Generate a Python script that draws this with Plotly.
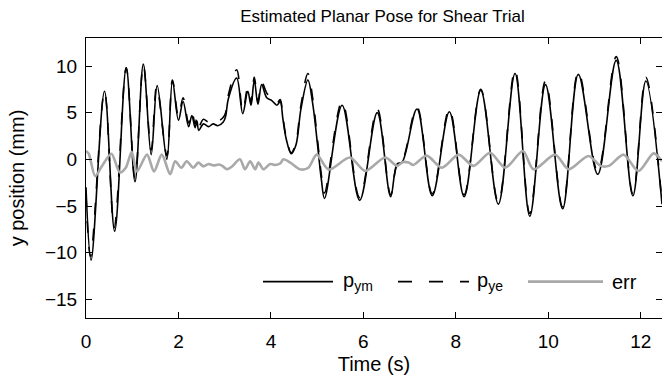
import plotly.graph_objects as go

# ---- data ----
t_ym = [0.00, 0.11, 0.40, 0.62, 0.87, 1.06, 1.24, 1.41, 1.54, 1.75, 1.87, 2.00, 2.10, 2.22, 2.29,
        2.36, 2.40, 2.44, 2.54, 2.65, 2.75, 2.85, 2.97, 3.02, 3.08, 3.26, 3.39, 3.50, 3.57, 3.64,
        3.72, 3.80, 3.91, 4.02, 4.13, 4.20, 4.26, 4.33, 4.44, 4.54, 4.65, 4.80, 4.90, 5.01, 5.09,
        5.16, 5.54, 5.92, 6.30, 6.59, 6.73, 6.84,
        7.16, 7.49, 7.86, 8.18, 8.54, 8.92, 9.28, 9.60, 9.94, 10.31, 10.65, 11.07, 11.47, 11.83,
        12.11, 12.46]
p_ym = [-3.0, -10.8, 7.3, -7.7, 9.8, -2.4, 10.2, 0.5, 7.9, 0.0, 8.4, 4.2, 6.2, 3.5, 4.7,
        3.4, 4.1, 3.1, 3.8, 3.5, 3.8, 3.6, 4.0, 4.6, 6.5, 8.7, 4.9, 7.3, 5.8, 8.5,
        5.9, 8.0, 6.6, 6.3, 5.8, 6.2, 4.3, 2.2, 0.6, 1.5, 5.4, 8.5, 6.1, 1.5, -2.1,
        -4.2, 5.8, -4.4, 5.0, -4.0, -0.5, -0.3,
        5.4, -3.9, 5.1, -4.0, 7.4, -4.8, 9.2, -6.1, 8.0, -5.3, 9.1, -1.6, 10.6, -3.9,
        8.4, -4.8]

t_ye = [0.00, 0.10, 0.40, 0.61, 0.87, 1.06, 1.24, 1.41, 1.53, 1.75, 1.87, 2.00, 2.10, 2.22, 2.29,
        2.36, 2.40, 2.44, 2.54, 2.65, 2.75, 2.85, 2.97, 3.02, 3.08, 3.26, 3.39, 3.50, 3.57, 3.64,
        3.72, 3.80, 3.91, 4.02, 4.13, 4.20, 4.26, 4.33, 4.44, 4.54, 4.65, 4.80, 4.90, 5.01, 5.09,
        5.16, 5.54, 5.92, 6.30, 6.59, 6.73, 6.84,
        7.16, 7.49, 7.86, 8.18, 8.54, 8.92, 9.28, 9.60, 9.94, 10.31, 10.65, 11.07, 11.47, 11.83,
        12.11, 12.46]
p_ye = [-3.8, -10.4, 7.3, -7.3, 9.8, -2.0, 10.1, 1.0, 7.8, 0.4, 8.5, 4.6, 6.6, 3.9, 5.1,
        3.8, 4.5, 3.5, 4.3, 4.0, 4.3, 4.1, 4.5, 5.0, 6.9, 9.6, 5.2, 7.7, 6.1, 8.8,
        6.2, 8.3, 7.1, 6.5, 6.0, 6.4, 4.5, 2.4, 0.7, 1.8, 5.8, 9.2, 6.7, 2.0, -1.6,
        -3.6, 6.2, -4.1, 5.4, -3.8, -0.6, -0.2,
        5.6, -3.7, 5.4, -3.8, 7.5, -4.6, 9.6, -5.8, 8.4, -5.1, 9.4, -1.3, 11.0, -3.7,
        8.8, -4.6]

t_err = [0.00, 0.06, 0.20, 0.36, 0.55, 0.73, 0.86, 0.99, 1.10, 1.32, 1.47, 1.64, 1.82, 1.93,
         2.06, 2.18, 2.32, 2.43, 2.54, 2.65, 2.76, 2.88, 2.95, 3.05, 3.15, 3.33, 3.44, 3.55,
         3.66, 3.73, 3.84, 3.98, 4.10, 4.20, 4.27, 4.42, 4.63, 4.81, 4.99, 5.25, 5.71, 6.04,
         6.47, 6.73, 6.85, 6.98, 7.08, 7.37, 7.70, 8.06, 8.38, 8.74, 9.07, 9.45, 9.68, 10.15,
         10.44, 10.87, 11.13, 11.31, 11.63, 11.95, 12.28, 12.46]
err = [0.9, 0.6, -1.8, -0.6, 0.6, -1.4, -0.9, 0.8, -1.3, 0.5, -1.3, 0.5, -1.6, -0.2,
       -0.9, -0.2, -0.9, -0.35, -0.75, -0.5, -0.65, -0.55, -0.7, -1.07, -0.8, 0.0, -1.07, -0.2,
       -1.07, -0.35, -1.07, -0.5, -0.6, -0.45, 0.0, -0.35, -1.07, -0.9, 0.5, -1.1, 0.2, -1.25,
       0.2, -0.7, -0.3, -0.35, -0.6, 0.4, -0.9, 0.5, -0.7, 0.7, -0.9, 0.9, -1.07, 0.5,
       -1.07, 0.36, -0.7, -0.7, 0.5, -1.25, 0.64, -0.2]

x_ticks = [0, 2, 4, 6, 8, 10, 12]
y_ticks = [-15, -10, -5, 0, 5, 10]
title_text = "Estimated Planar Pose for Shear Trial"
x_label = "Time (s)"
y_label = "y position (mm)"
legend_labels = ["p<sub>ym</sub>", "p<sub>ye</sub>", "err"]

FONT = "Liberation Sans, Arial, Helvetica, sans-serif"
GRAY = "#a9a9a9"

fig = go.Figure()
fig.add_trace(go.Scatter(x=t_ym, y=p_ym, mode="lines",
                         line=dict(color="black", width=1.6, shape="spline", smoothing=1.0)))
fig.add_trace(go.Scatter(x=t_ye, y=p_ye, mode="lines",
                         line=dict(color="black", width=1.6, dash="12px,14px", shape="spline", smoothing=1.0)))
fig.add_trace(go.Scatter(x=t_err, y=err, mode="lines",
                         line=dict(color=GRAY, width=2.6, shape="spline", smoothing=0.8)))

axis_common = dict(showline=True, linecolor="black", linewidth=1, mirror="allticks",
                   ticks="inside", ticklen=6, tickcolor="black", tickwidth=1,
                   showgrid=False, zeroline=False,
                   tickfont=dict(family=FONT, size=19, color="black"))

fig.update_xaxes(range=[0, 12.46], tickvals=x_ticks, ticklabelstandoff=6,
                 title=dict(text=x_label, font=dict(family=FONT, size=20, color="black"), standoff=6),
                 **axis_common)
fig.update_yaxes(range=[-17, 13], tickvals=y_ticks, ticklabelstandoff=4,
                 title=dict(text=y_label, font=dict(family=FONT, size=20, color="black"), standoff=14),
                 **axis_common)

# legend (MATLAB-style, box off) drawn inside the axes
ly = 0.13
shapes = [
    dict(type="line", xref="paper", yref="paper", x0=0.3073, x1=0.4288, y0=ly, y1=ly,
         line=dict(color="black", width=1.6)),
    dict(type="line", xref="paper", yref="paper", x0=0.5417, x1=0.6649, y0=ly, y1=ly,
         line=dict(color="black", width=1.6, dash="14px,17px")),
    dict(type="line", xref="paper", yref="paper", x0=0.7674, x1=0.8976, y0=ly, y1=ly,
         line=dict(color=GRAY, width=2.6)),
]
ann = []
for xpos, lab in zip([0.443, 0.675, 0.909], legend_labels):
    ann.append(dict(x=xpos, y=ly, xref="paper", yref="paper", text=lab, showarrow=False,
                    xanchor="left", yanchor="middle",
                    font=dict(family=FONT, size=20, color="black")))

fig.update_layout(
    width=662, height=381,
    margin=dict(l=86, r=0, t=38, b=63),
    paper_bgcolor="white", plot_bgcolor="white",
    showlegend=False,
    title=dict(text=title_text, x=382.5 / 662, xref="container", xanchor="center",
               y=1 - 16 / 381, yref="container", yanchor="middle",
               font=dict(family=FONT, size=17, color="black")),
    shapes=shapes, annotations=ann,
)

fig.write_html("out.html")
